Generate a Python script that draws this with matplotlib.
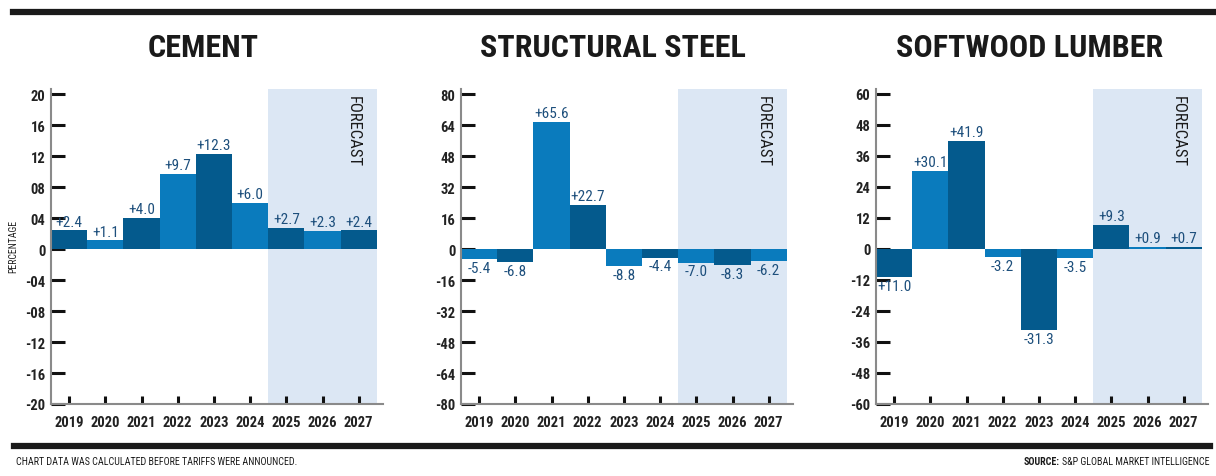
import matplotlib
matplotlib.use("Agg")
import matplotlib.pyplot as plt
import numpy as np

FONT = ["Roboto Condensed", "DejaVu Sans"]
plt.rcParams["font.family"] = FONT

YEARS = ["2019", "2020", "2021", "2022", "2023", "2024", "2025", "2026", "2027"]

CEMENT = [2.4, 1.1, 4.0, 9.7, 12.3, 6.0, 2.7, 2.3, 2.4]
CEMENT_LBL = ["+2.4", "+1.1", "+4.0", "+9.7", "+12.3", "+6.0", "+2.7", "+2.3", "+2.4"]
STEEL = [-5.4, -6.8, 65.6, 22.7, -8.8, -4.4, -7.0, -8.3, -6.2]
STEEL_LBL = ["-5.4", "-6.8", "+65.6", "+22.7", "-8.8", "-4.4", "-7.0", "-8.3", "-6.2"]
LUMBER = [-11.0, 30.1, 41.9, -3.2, -31.3, -3.5, 9.3, 0.9, 0.7]
LUMBER_LBL = ["+11.0", "+30.1", "+41.9", "-3.2", "-31.3", "-3.5", "+9.3", "+0.9", "+0.7"]

DARK = "#045a8d"
LIGHT = "#0a7bbd"
SHADE = "#dce7f4"
LBLC = "#1d4f7c"

W, H = 1216, 477
fig = plt.figure(figsize=(W / 100, H / 100), dpi=100)


def px(x0, y0, w, h):
    return [x0 / W, 1 - (y0 + h) / H, w / W, h / H]


panels = [
    ("CEMENT", CEMENT, CEMENT_LBL, 20, 4, 20.65, DARK, 51, 203),
    ("STRUCTURAL STEEL", STEEL, STEEL_LBL, 80, 16, 82.6, LIGHT, 461, 613),
    ("SOFTWOOD LUMBER", LUMBER, LUMBER_LBL, 60, 12, 61.9, DARK, 876, 1030),
]

for title, vals, lbls, lim, step, top, first, x0, tx in panels:
    ax = fig.add_axes(px(x0, 90, 332, 315))
    ax.set_axisbelow(True)
    x = np.arange(len(YEARS))
    other = LIGHT if first == DARK else DARK
    cols = [first if i % 2 == 0 else other for i in x]
    ax.axvspan(5.5, 8.5, color=SHADE, zorder=0, lw=0)
    ax.bar(x, vals, width=1.0, color=cols, zorder=2, lw=0)
    off = lim * 0.012
    for xi, v, s in zip(x, vals, lbls):
        if v >= 0:
            ax.text(xi, v + off, s, ha="center", va="bottom", color=LBLC,
                    fontsize=11, zorder=3)
        else:
            ax.text(xi, v - off, s, ha="center", va="top", color=LBLC,
                    fontsize=11, zorder=3)
    ax.text(7.85, top - lim * 0.04, "FORECAST", rotation=-90, ha="center",
            va="top", fontsize=12, color="#1a1a1a")
    ax.set_xlim(-0.5, 8.67)
    ax.set_ylim(-lim, top)
    ticks = np.arange(-lim, lim + 1, step)
    ax.set_yticks(ticks)
    ax.set_yticklabels([("-" if t < 0 else "") + ("%02d" % abs(t) if t != 0 else "0")
                        for t in ticks], fontsize=10.5, fontweight="bold", color="#222222")
    ax.set_xticks(x)
    ax.set_xticklabels(YEARS, fontsize=10.5, fontweight="bold", color="#222222")
    ax.tick_params(axis="y", direction="in", length=10, width=2.2, color="#111111", pad=4)
    ax.tick_params(axis="x", direction="in", length=6, width=2.2, color="#111111", pad=8)
    for sp in ["top", "right"]:
        ax.spines[sp].set_visible(False)
    for sp in ["left", "bottom"]:
        ax.spines[sp].set_color("#8a8a8a")
        ax.spines[sp].set_linewidth(1.5)
        ax.spines[sp].set_zorder(4)
    fig.text(tx / W, 1 - 48 / H, title, ha="center", va="center", fontsize=23,
             fontweight="bold", color="#1a1a1a")

fig.text(13 / W, 1 - 246 / H, "PERCENTAGE", rotation=90, ha="center", va="center",
         fontsize=7, color="#222222")

# top and bottom rules
fig.add_artist(plt.Line2D([13 / W, 1.0], [1 - 13 / H] * 2, color="#1a1a1a", lw=4.5))
fig.add_artist(plt.Line2D([14 / W, 1210 / W], [1 - 447 / H] * 2, color="#1a1a1a", lw=4.5))

fig.text(16 / W, 1 - 462 / H, "CHART DATA WAS CALCULATED BEFORE TARIFFS WERE ANNOUNCED.",
         ha="left", va="center", fontsize=7.2, color="#1a1a1a")
src = fig.text(1210 / W, 1 - 462 / H, "S&P GLOBAL MARKET INTELLIGENCE", ha="right",
               va="center", fontsize=7.2, color="#1a1a1a")
fig.canvas.draw()
bb = src.get_window_extent()
fig.text((bb.x0 - 3) / W, 1 - 462 / H, "SOURCE:", ha="right", va="center",
         fontsize=7.2, fontweight="bold", color="#1a1a1a")

fig.savefig("out.png", dpi=100, facecolor="white")
